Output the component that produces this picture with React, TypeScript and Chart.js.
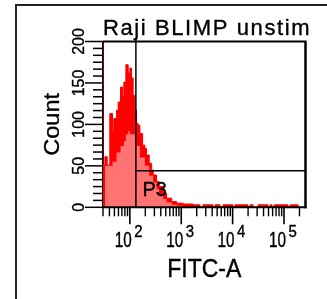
import React, { useEffect, useRef } from 'react';
import { Chart, registerables } from 'chart.js';

Chart.register(...registerables);

// ---- text ----
const TITLE = 'Raji BLIMP unstimulated';
const X_TITLE = 'FITC-A';
const Y_TITLE = 'Count';
const GATE_NAME = 'P3';

// ---- axes ----
const X_MIN = 30;
const X_MAX = 262144;
const Y_MIN = 0;
const Y_MAX = 200;
const Y_MAJOR_TICKS = [0, 50, 100, 150, 200];
const Y_MINOR_PER_MAJOR = 6;
const X_DECADES = [2, 3, 4, 5];
const X_MINOR_MULTIPLES = [2, 3, 4, 5, 6, 7, 8, 9];

// ---- gate P3 ----
const GATE_X = 131;
const GATE_Y = 44;

// ---- histogram: upper envelope (bin start, count) ----
const upperBins = [
  30, 32.6, 36.2, 40.7, 46, 48.7, 55, 59.2, 65.9, 72.1, 76.4, 83.6, 92.7, 100, 108, 116, 125,
  135, 145, 157, 177, 196, 211, 238, 265, 285, 331, 372, 446, 519, 650, 813, 1094, 1700, 2317,
  2650, 4150, 4540, 5675, 6500, 10190, 11150, 19950, 21830, 25000, 31270, 48980, 53580, 58610,
  64120, 120200, 131500, 188400, 206100, 262144,
];
const upperCounts = [
  230, 51, 61, 51, 113, 91, 107, 117, 127, 145, 135, 151, 172, 162, 168, 156, 135,
  117, 101, 99, 89, 75, 71, 63, 53, 45, 39, 31, 25, 17, 11, 7, 5, 4, 3,
  0, 3, 0, 3, 0, 3, 0, 3, 0, 3, 0, 3, 0, 3,
  0, 3, 0, 3, 0, 0,
];

// ---- histogram: lower envelope (bin start, count) ----
const lowerBins = [
  32.6, 46, 55, 65.9, 76.4, 83.6, 92.7, 100, 125, 135, 157, 196, 238, 285, 331, 372, 446, 519,
  650, 813, 1094, 1700,
];
const lowerCounts = [
  44, 50, 55, 66, 74, 80, 88, 92, 88, 82, 74, 60, 50, 38, 30, 22, 16, 10,
  6, 3, 2, 0,
];

const FONT = '"Liberation Sans", Arial, Helvetica, sans-serif';

type TOpts = {
  sx?: number;
  sy?: number;
  align?: CanvasTextAlign;
  baseline?: CanvasTextBaseline;
  rot?: number;
  spacing?: string;
};

function drawText(ctx: CanvasRenderingContext2D, s: string, x: number, y: number, size: number, o: TOpts = {}) {
  ctx.save();
  ctx.translate(x, y);
  if (o.rot) ctx.rotate(o.rot);
  ctx.scale(o.sx ?? 1, o.sy ?? 1);
  ctx.font = `${size}px ${FONT}`;
  ctx.textAlign = o.align ?? 'left';
  ctx.textBaseline = o.baseline ?? 'alphabetic';
  if (o.spacing && 'letterSpacing' in ctx) (ctx as any).letterSpacing = o.spacing;
  ctx.fillStyle = '#000';
  ctx.strokeStyle = '#000';
  ctx.lineWidth = 0.35;
  ctx.fillText(s, 0, 0);
  ctx.strokeText(s, 0, 0);
  ctx.restore();
}

function line(ctx: CanvasRenderingContext2D, x1: number, y1: number, x2: number, y2: number, w: number, c = '#000') {
  ctx.save();
  ctx.strokeStyle = c;
  ctx.lineWidth = w;
  ctx.beginPath();
  ctx.moveTo(x1, y1);
  ctx.lineTo(x2, y2);
  ctx.stroke();
  ctx.restore();
}

const facsPlugin = {
  id: 'facsDecor',
  beforeDatasetsDraw(chart: any) {
    const { ctx, chartArea: a } = chart;
    line(ctx, a.left, a.top, a.left, a.bottom, 2);
  },
  afterDatasetsDraw(chart: any) {
    const { ctx, chartArea: a } = chart;
    const xs = chart.scales.x;
    const ys = chart.scales.y;

    // plot frame
    line(ctx, a.left, a.top, a.right + 1, a.top, 2);
    line(ctx, a.right, a.top, a.right, a.bottom + 1, 2.5);
    line(ctx, a.left - 1, a.bottom, a.right + 1, a.bottom, 2);

    // gate P3
    const gx = xs.getPixelForValue(GATE_X);
    const gy = ys.getPixelForValue(GATE_Y);
    line(ctx, gx, a.top - 3, gx, a.bottom, 1.5);
    line(ctx, gx, gy, a.right, gy, 1.5);
    drawText(ctx, GATE_NAME, gx + 6.5, gy + 25, 20, { sy: 1.05 });

    // y ticks
    const step = (Y_MAJOR_TICKS[1] - Y_MAJOR_TICKS[0]) / Y_MINOR_PER_MAJOR;
    const nMinor = Math.round((Y_MAX - Y_MIN) / step);
    for (let i = 0; i <= nMinor; i++) {
      const v = Y_MIN + i * step;
      const py = ys.getPixelForValue(v);
      const major = i % Y_MINOR_PER_MAJOR === 0;
      line(ctx, a.left - (major ? 18 : 10), py, a.left, py, 1.5);
    }
    Y_MAJOR_TICKS.forEach((v) => {
      const py = ys.getPixelForValue(v);
      drawText(ctx, String(v), a.left - 19.5, py, 16, { rot: -Math.PI / 2, align: 'center', sy: 1.05 });
    });

    // x ticks
    for (let d = 1; d <= 5; d++) {
      X_MINOR_MULTIPLES.forEach((m) => {
        const v = m * Math.pow(10, d);
        if (v < X_MIN || v > X_MAX) return;
        const px = xs.getPixelForValue(v);
        line(ctx, px, a.bottom, px, a.bottom + 9, 1.4);
      });
    }
    X_DECADES.forEach((d) => {
      const px = xs.getPixelForValue(Math.pow(10, d));
      line(ctx, px, a.bottom, px, a.bottom + 17, 1.6);
      drawText(ctx, '10', px + 2, a.bottom + 40, 18, { align: 'right', sx: 0.85, sy: 1.2 });
      drawText(ctx, String(d), px + 4.5, a.bottom + 29.5, 15, { sy: 1.12 });
    });

    // axis titles
    drawText(ctx, X_TITLE, (a.left + a.right) / 2, a.bottom + 70, 23, { align: 'center', sy: 1.1 });
    drawText(ctx, Y_TITLE, 58.5, (a.top + a.bottom) / 2, 22, { rot: -Math.PI / 2, align: 'center', sx: 1.07 });

    // title (clipped at the right)
    ctx.save();
    ctx.beginPath();
    ctx.rect(0, 0, a.right + 3.5, chart.height);
    ctx.clip();
    drawText(ctx, TITLE, a.left, a.top - 6.5, 22, { spacing: '1.6px' });
    ctx.restore();

    // outer frame
    line(ctx, 16, 5, chart.width + 2, 5, 2, '#222');
    line(ctx, 16, 4, 16, chart.height + 2, 2, '#222');
  },
};

export default function App() {
  const ref = useRef<HTMLCanvasElement | null>(null);

  useEffect(() => {
    if (!ref.current) return;
    const chart = new Chart(ref.current, {
      type: 'line',
      data: {
        datasets: [
          {
            label: 'lower',
            data: lowerBins.map((x, i) => ({ x, y: lowerCounts[i] })),
            stepped: 'after',
            fill: 'origin',
            backgroundColor: 'rgb(255,115,115)',
            borderColor: 'rgb(255,115,115)',
            borderWidth: 0,
            pointRadius: 0,
            order: 1,
          },
          {
            label: 'upper',
            data: upperBins.map((x, i) => ({ x, y: upperCounts[i] })),
            stepped: 'after',
            fill: 'origin',
            backgroundColor: '#ff0000',
            borderColor: '#ff0000',
            borderWidth: 1,
            pointRadius: 0,
            order: 2,
          },
        ],
      },
      options: {
        animation: false,
        responsive: false,
        devicePixelRatio: 1,
        events: [],
        layout: { padding: { left: 103, right: 21.5, top: 41.5, bottom: 91.7 } },
        plugins: { legend: { display: false }, tooltip: { enabled: false }, title: { display: false } },
        scales: {
          x: { type: 'logarithmic', min: X_MIN, max: X_MAX, display: false },
          y: { type: 'linear', min: Y_MIN, max: Y_MAX, display: false },
        },
      },
      plugins: [facsPlugin],
    });
    return () => chart.destroy();
  }, []);

  return (
    <div style={{ position: 'absolute', left: 0, top: 0, width: 327, height: 299, background: '#fff' }}>
      <canvas ref={ref} width={327} height={299} style={{ display: 'block', width: 327, height: 299 }} />
    </div>
  );
}
